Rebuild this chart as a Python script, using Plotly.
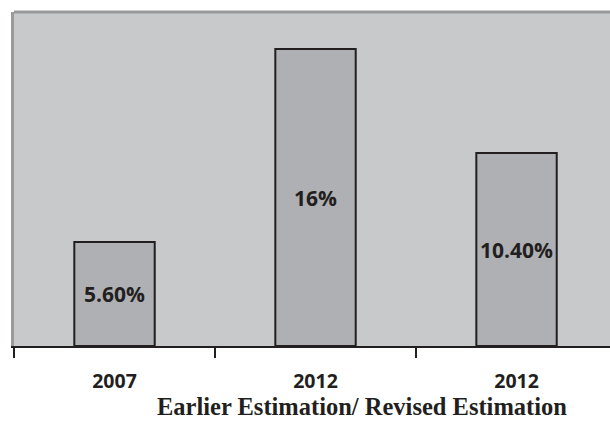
import plotly.graph_objects as go

categories = ["2007", "2012", "2012"]
values = [5.6, 16.0, 10.4]
bar_labels = ["5.60%", "16%", "10.40%"]
x_title = "Earlier Estimation/ Revised Estimation"

positions = list(range(len(categories)))
boundaries = [p - 0.5 for p in positions] + [positions[-1] + 0.5]

fig = go.Figure()
fig.add_trace(go.Bar(
    x=positions, y=values, width=0.4,
    text=bar_labels, textposition="inside", insidetextanchor="middle",
    textfont=dict(family="Open Sans", size=21, color="#231f20", weight="bold"),
    marker=dict(color="#aeb0b3", line=dict(color="#231f20", width=2)),
    hoverinfo="skip",
))

fig.update_layout(
    width=610, height=422,
    margin=dict(l=14, r=0, t=12, b=76),
    paper_bgcolor="white", plot_bgcolor="#c8c9cb",
    showlegend=False,
    xaxis=dict(
        range=[-0.5, 2.465], showgrid=False, zeroline=False,
        tickmode="array", tickvals=positions, ticktext=categories,
        ticks="outside", ticklen=17, tickcolor="rgba(0,0,0,0)",
        tickfont=dict(family="Open Sans", size=19.5, color="#231f20", weight="bold"),
        showline=True, linecolor="#231f20", linewidth=2,
        minor=dict(tickmode="array", tickvals=boundaries, ticks="outside",
                   ticklen=10, tickwidth=2, tickcolor="#231f20", showgrid=False),
    ),
    yaxis=dict(
        range=[0, 18], showgrid=False, zeroline=False, showticklabels=False,
        showline=True, linecolor="#999a9c", linewidth=3,
    ),
    shapes=[dict(type="line", xref="paper", yref="paper", x0=0, x1=1, y0=1, y1=1,
                 line=dict(color="#999a9c", width=3))],
    annotations=[dict(
        text="<b>" + x_title + "</b>", xref="paper", yref="paper",
        x=0.584, y=0.0, xanchor="center", yanchor="bottom", yshift=-76,
        showarrow=False,
        font=dict(family="Liberation Serif", size=24.5, color="#231f20"),
    )],
)

fig.write_html("out.html")
